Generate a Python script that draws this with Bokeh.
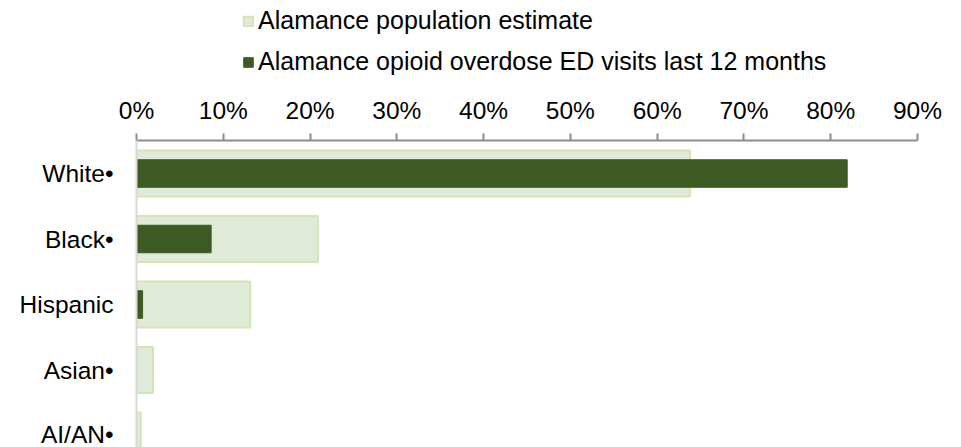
from bokeh.plotting import figure
from bokeh.models import Range1d, FixedTicker, Legend, LegendItem, ColumnDataSource
from bokeh.layouts import column
from bokeh.embed import file_html
from bokeh.resources import INLINE

categories = ["White•", "Black•", "Hispanic", "Asian•", "AI/AN•"]
population_pct = [63.8, 20.9, 13.1, 1.9, 0.5]
opioid_ed_pct = [81.9, 8.6, 0.7, 0.0, 0.0]
series_names = ["Alamance population estimate",
                "Alamance opioid overdose ED visits last 12 months"]
tick_values = [0, 10, 20, 30, 40, 50, 60, 70, 80, 90]
tick_labels = ["0%", "10%", "20%", "30%", "40%", "50%", "60%", "70%", "80%", "90%"]

FONT = "Liberation Sans"
FS = "24.5px"
LFS = "25px"
LIGHT_FILL, LIGHT_LINE = "#E0EAD9", "#D5E4B6"
DARK = "#3D5A22"

ypos = list(range(len(categories)))
src = ColumnDataSource(dict(y=ypos, pop=population_pct, opi=opioid_ed_pct))

# ---- legend strip (top); its frame is aligned with the chart frame ----
TOP_H = 90
top = figure(width=953, height=TOP_H, output_backend="svg", toolbar_location=None,
             x_range=Range1d(1000, 1001), y_range=Range1d(1000, 1001),
             x_axis_location=None, y_axis_location=None,
             min_border_left=0, min_border_right=0, min_border_top=0, min_border_bottom=0)
top.outline_line_color = None
top.grid.grid_line_color = None
top.background_fill_color = None
top.border_fill_color = None
# legend swatches only: zero-size bars outside the strip's visible ranges
l1 = top.hbar(y="y", right=0, left=0, height=0, source=src,
              fill_color=LIGHT_FILL, line_color=LIGHT_LINE, line_width=2)
l2 = top.hbar(y="y", right=0, left=0, height=0, source=src,
              fill_color=DARK, line_color=DARK, line_width=1)
legend = Legend(items=[LegendItem(label=series_names[0], renderers=[l1]),
                       LegendItem(label=series_names[1], renderers=[l2])],
                location=(106, 14), orientation="vertical")
legend.border_line_color = None
legend.background_fill_alpha = 0
legend.padding = 0
legend.margin = 0
legend.spacing = 12
legend.glyph_width = 12
legend.glyph_height = 12
legend.label_standoff = 4
legend.label_text_font = FONT
legend.label_text_font_size = LFS
legend.label_text_color = "#000000"
legend.label_height = 12
top.add_layout(legend, "center")

# ---- main chart ----
p = figure(width=953, height=447 - TOP_H, output_backend="svg", toolbar_location=None,
           x_range=Range1d(0, 90), y_range=Range1d(4.183, -0.504),
           x_axis_location="above", min_border_left=136, min_border_right=36,
           min_border_top=140 - TOP_H, min_border_bottom=0)
p.outline_line_color = None
p.grid.grid_line_color = None
p.background_fill_color = None
p.border_fill_color = None

p.hbar(y="y", right="pop", left=0, height=0.70, source=src,
       fill_color=LIGHT_FILL, line_color=LIGHT_LINE, line_width=2)
p.hbar(y="y", right="opi", left=0, height=0.42, source=src,
       fill_color=DARK, line_color=DARK, line_width=1)

xa = p.xaxis[0]
xa.ticker = FixedTicker(ticks=tick_values)
xa.major_label_overrides = {v: l for v, l in zip(tick_values, tick_labels)}
xa.minor_tick_line_color = None
xa.axis_line_color = "#8C8C8C"
xa.axis_line_width = 2
xa.major_tick_line_color = "#8C8C8C"
xa.major_tick_line_width = 2
xa.major_tick_in = 0
xa.major_tick_out = 7
xa.major_label_standoff = 10
xa.major_label_text_font = FONT
xa.major_label_text_font_size = FS
xa.major_label_text_color = "#000000"

ya = p.yaxis[0]
ya.ticker = FixedTicker(ticks=ypos)
ya.major_label_overrides = {i: c for i, c in enumerate(categories)}
ya.minor_tick_line_color = None
ya.major_tick_line_color = None
ya.major_tick_in = 0
ya.major_tick_out = 0
ya.axis_line_color = "#D9D9D9"
ya.axis_line_width = 2
ya.major_label_standoff = 23
ya.major_label_text_font = FONT
ya.major_label_text_font_size = FS
ya.major_label_text_color = "#000000"

layout = column(top, p, spacing=0)
open("out.html", "w").write(file_html(layout, INLINE))
